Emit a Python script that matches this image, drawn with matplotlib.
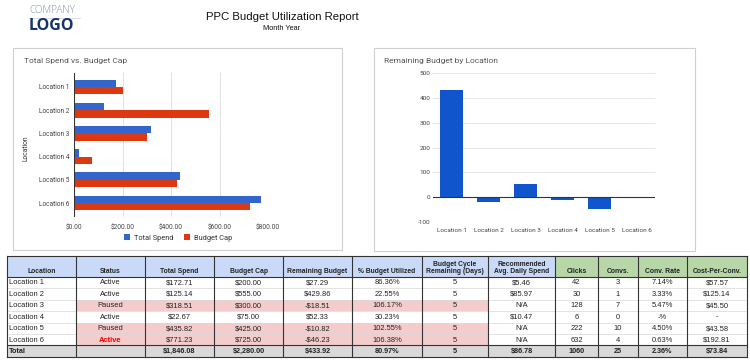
import matplotlib
matplotlib.use("Agg")
import matplotlib.pyplot as plt
from matplotlib.patches import Rectangle
import numpy as np

# ---------------- data ----------------
locations = ['Location 1', 'Location 2', 'Location 3', 'Location 4', 'Location 5', 'Location 6']
status = ['Active', 'Active', 'Paused', 'Active', 'Paused', 'Active']
total_spend = [172.71, 125.14, 318.51, 22.67, 435.82, 771.23]
budget_cap = [200.00, 555.00, 300.00, 75.00, 425.00, 725.00]
remaining_budget = [27.29, 429.86, -18.51, 52.33, -10.82, -46.23]
pct_utilized = [86.36, 22.55, 106.17, 30.23, 102.55, 106.38]
cycle_days = [5, 5, 5, 5, 5, 5]
rec_daily = ['$5.46', '$85.97', 'N/A', '$10.47', 'N/A', 'N/A']
clicks = [42, 30, 128, 6, 222, 632]
convs = [3, 1, 7, 0, 10, 4]
conv_rate = ['7.14%', '3.33%', '5.47%', '-%', '4.50%', '0.63%']
cost_per_conv = ['$57.57', '$125.14', '$45.50', '-', '$43.58', '$192.81']
totals = ['Total', '', '$1,846.08', '$2,280.00', '$433.92', '80.97%', '5',
          '$86.78', '1060', '25', '2.36%', '$73.84']

# values as plotted in the "Remaining Budget by Location" chart
chart_remaining = [429.86, -18.51, 52.33, -10.82, -46.23, 0.0]
spend_ticks = [0, 200, 400, 600, 800]
remain_ticks = [-100, 0, 100, 200, 300, 400, 500]

headers = ['Location', 'Status', 'Total Spend', 'Budget Cap', 'Remaining Budget',
           '% Budget Utilized', 'Budget Cycle\nRemaining (Days)',
           'Recommended\nAvg. Daily Spend', 'Clicks', 'Convs.', 'Conv. Rate',
           'Cost-Per-Conv.']

# ---------------- figure ----------------
W, H = 750, 362
fig = plt.figure(figsize=(W / 100, H / 100), dpi=100)
fig.patch.set_facecolor('white')

ov = fig.add_axes([0, 0, 1, 1], zorder=0)
ov.set_xlim(0, W)
ov.set_ylim(H, 0)
ov.axis('off')

SANS = ['Liberation Sans', 'DejaVu Sans']
ROBO = ['Roboto', 'DejaVu Sans']

# header / logo
ov.text(29, 16, 'COMPANY', fontsize=7.2, color='#8393ab', family=['Open Sans', 'DejaVu Sans'],
        fontweight='light', va='bottom', ha='left')
ov.plot([29, 80], [17.5, 17.5], color='#d5d9e0', lw=0.6)
ov.text(28.5, 33.5, 'LOGO', fontsize=11.5, color='#16336a', family=['Open Sans', 'DejaVu Sans'],
        fontweight='bold', va='bottom', ha='left')
ov.text(282, 17, 'PPC Budget Utilization Report', fontsize=8.2, color='#111111',
        family=SANS, ha='center', va='center')
ov.text(282, 29, 'Month Year', fontsize=5.3, color='#111111', family=SANS,
        ha='center', va='center')

# chart panels
for (x0, y0, x1, y1) in [(13, 48, 342, 250), (374, 48, 695, 251)]:
    ov.add_patch(Rectangle((x0, y0), x1 - x0, y1 - y0, facecolor='white',
                           edgecolor='#cfcfcf', lw=0.8))
ov.text(24, 61, 'Total Spend vs. Budget Cap', fontsize=6.0, color='#555555',
        family=ROBO, ha='left', va='center')
ov.text(384, 61, 'Remaining Budget by Location', fontsize=6.0, color='#555555',
        family=ROBO, ha='left', va='center')
ov.text(26, 148, 'Location', fontsize=4.9, color='#333333', family=ROBO,
        rotation=90, ha='center', va='center')

BLUE = '#3366cc'
RED = '#dc3912'

def fx(px):
    return px / W

def fy(py):
    return 1 - py / H

# ---------------- left chart ----------------
axL = fig.add_axes([fx(74), fy(217), fx(268) - fx(74), fy(73) - fy(217)], zorder=2)
axL.set_facecolor('none')
ypos = np.arange(len(locations))
bh = 0.32
axL.barh(ypos - bh / 2, total_spend, height=bh, color=BLUE, label='Total Spend', zorder=3)
axL.barh(ypos + bh / 2, budget_cap, height=bh, color=RED, label='Budget Cap', zorder=3)
axL.set_xlim(0, 800)
axL.set_ylim(len(locations) - 0.4, -0.6)
axL.set_xticks(spend_ticks)
axL.set_xticklabels([f'${v:,.2f}' for v in spend_ticks])
axL.set_yticks(ypos)
axL.set_yticklabels(locations)
for v in spend_ticks[1:]:
    axL.axvline(v, color='#e2e2e2', lw=0.7, zorder=1)
axL.axvline(0, color='#333333', lw=0.8, zorder=4)
for s in axL.spines.values():
    s.set_visible(False)
axL.tick_params(axis='both', length=0, labelsize=4.7, labelcolor='#444444')
axL.tick_params(axis='x', pad=5)
axL.tick_params(axis='y', pad=3)
for lab in axL.get_xticklabels() + axL.get_yticklabels():
    lab.set_family(ROBO)
leg = axL.legend(loc='center', bbox_to_anchor=(fx(178), fy(238)),
                 bbox_transform=fig.transFigure, ncol=2, frameon=False,
                 fontsize=5.3, handlelength=0.8, handleheight=0.8,
                 handletextpad=0.5, columnspacing=1.5, prop={'family': ROBO, 'size': 5.3})
for t in leg.get_texts():
    t.set_color('#333333')

# ---------------- right chart ----------------
axR = fig.add_axes([fx(433), fy(222), fx(655) - fx(433), fy(73) - fy(222)], zorder=2)
axR.set_facecolor('none')
xpos = np.arange(len(locations))
axR.bar(xpos, chart_remaining, width=0.6, color='#1155cc', zorder=3)
axR.set_xlim(-0.5, len(locations) - 0.5)
axR.set_ylim(-100, 500)
axR.set_yticks(remain_ticks)
axR.set_yticklabels([str(v) for v in remain_ticks])
axR.set_xticks(xpos)
axR.set_xticklabels(locations)
for v in remain_ticks:
    if v != 0:
        axR.axhline(v, color='#e6e6e6', lw=0.7, zorder=1)
axR.axhline(0, color='#333333', lw=0.8, zorder=4)
for s in axR.spines.values():
    s.set_visible(False)
axR.tick_params(axis='both', length=0, labelsize=4.6, labelcolor='#444444')
axR.tick_params(axis='x', pad=4)
axR.tick_params(axis='y', pad=2)
for lab in axR.get_xticklabels() + axR.get_yticklabels():
    lab.set_family(ROBO)

# ---------------- table ----------------
col_edges = [7, 76, 145, 214, 283, 352, 422, 488, 555, 598, 638, 687, 747]
head_top, head_bot = 256, 277
row_h = 11.4
n = len(locations)
tot_top = head_bot + n * row_h
tot_bot = tot_top + row_h

def money(v):
    return ('-$' if v < 0 else '$') + f'{abs(v):,.2f}'

rows = []
for i in range(n):
    rows.append([locations[i], status[i], money(total_spend[i]), money(budget_cap[i]),
                 money(remaining_budget[i]), f'{pct_utilized[i]:.2f}%', str(cycle_days[i]),
                 rec_daily[i], str(clicks[i]), str(convs[i]), conv_rate[i], cost_per_conv[i]])

# header fills
for j in range(len(headers)):
    c = '#c9daf8' if j < 8 else '#b7d7a8'
    ov.add_patch(Rectangle((col_edges[j], head_top), col_edges[j + 1] - col_edges[j],
                           head_bot - head_top, facecolor=c, edgecolor='none'))
    ov.text((col_edges[j] + col_edges[j + 1]) / 2, head_bot - 1.6, headers[j],
            fontsize=4.9, fontweight='bold', color='#222222', family=SANS,
            ha='center', va='bottom', linespacing=1.15)

# data rows
for i in range(n):
    y0 = head_bot + i * row_h
    over = pct_utilized[i] > 100
    if over:
        ov.add_patch(Rectangle((col_edges[1], y0), col_edges[7] - col_edges[1], row_h,
                               facecolor='#f4cccc', edgecolor='none'))
    for j, txt in enumerate(rows[i]):
        color = '#222222'
        weight = 'normal'
        if j == 1 and over and status[i] == 'Active':
            color = '#ff0000'
            weight = 'bold'
        if j == 0:
            ov.text(col_edges[0] + 2, y0 + row_h / 2 + 0.3, txt, fontsize=5.4, color=color,
                    family=SANS, ha='left', va='center', fontweight=weight)
        else:
            ov.text((col_edges[j] + col_edges[j + 1]) / 2, y0 + row_h / 2 + 0.3, txt,
                    fontsize=5.4, color=color, family=SANS, ha='center', va='center',
                    fontweight=weight)
    if i > 0:
        ov.plot([col_edges[0], col_edges[-1]], [y0, y0], color='#d8d8d8', lw=0.5)

# total row
ov.add_patch(Rectangle((col_edges[0], tot_top), col_edges[-1] - col_edges[0], row_h,
                       facecolor='#d9d9d9', edgecolor='none'))
for j, txt in enumerate(totals):
    if j == 0:
        ov.text(col_edges[0] + 2, tot_top + row_h / 2 + 0.3, txt, fontsize=5.2,
                fontweight='bold', color='#222222', family=SANS, ha='left', va='center')
    else:
        ov.text((col_edges[j] + col_edges[j + 1]) / 2, tot_top + row_h / 2 + 0.3, txt,
                fontsize=5.2, fontweight='bold', color='#222222', family=SANS,
                ha='center', va='center')

# grid lines
for x in col_edges:
    ov.plot([x, x], [head_top, tot_bot], color='#333333', lw=0.8)
for y in [head_top, head_bot, tot_top, tot_bot]:
    ov.plot([col_edges[0], col_edges[-1]], [y, y], color='#333333', lw=0.8)

fig.savefig('out.png', dpi=100)
